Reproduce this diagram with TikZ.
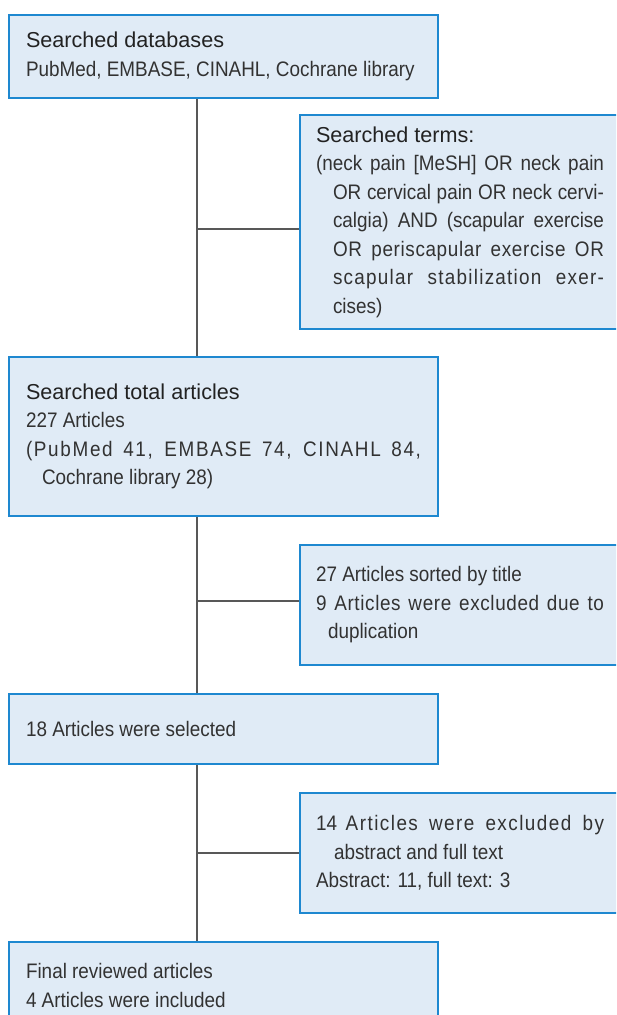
\documentclass[tikz,border=0pt]{standalone}
\usepackage{fontspec}
\setmainfont[FakeStretch=0.9]{Liberation Sans}
\newfontfamily\headfont{Liberation Sans}
\usetikzlibrary{backgrounds}
\setlength{\parindent}{0pt}

\definecolor{boxblue}{RGB}{30,136,208}
\definecolor{boxfill}{RGB}{224,235,246}
\definecolor{linegray}{RGB}{88,88,88}
\definecolor{txtgray}{RGB}{50,50,50}
\definecolor{headgray}{RGB}{34,34,34}

\newcommand{\hd}[1]{{\headfont\fontsize{10.8}{14.25}\selectfont\color{headgray}#1}}
% hanging paragraph, wide-set line
\newcommand{\hang}[1]{\leavevmode\hangindent=#1\hangafter=1\relax}
\newcommand{\wide}[2]{{\addfontfeatures{LetterSpace=#1}#2}}

\begin{document}
\begin{tikzpicture}[x=0.5pt,y=-0.5pt,
    mainbox/.style={draw=boxblue,fill=boxfill,line width=1pt,anchor=north west,
      text width=197.5pt,inner xsep=8.5pt,inner ysep=2pt,minimum width=214.5pt,
      align=justify,text=txtgray,font=\fontsize{10.5}{14.25}\selectfont},
    sidebox/.style={mainbox,text width=144pt,inner xsep=8pt,minimum width=160pt},
    link/.style={draw=linegray,line width=1pt}]
  \useasboundingbox (0,0) rectangle (616,1015);
  \clip (0,0) rectangle (616,1015);
  \coordinate (trunk) at (197,0);
  \node[mainbox,minimum height=41.5pt] (db) at (8,14)
    {\hd{Searched databases}\par PubMed, EMBASE, CINAHL, Cochrane library};
  \node[sidebox,minimum height=107pt] (terms) at (299,114)
    {\hd{Searched terms:}\par
     \hang{8.5pt}(neck pain [MeSH] OR neck pain\linebreak
     OR cervical pain OR neck cervi-\linebreak calgia) AND (scapular exercise\linebreak
     \wide{3}{OR periscapular exercise OR}\linebreak \wide{6}{scapular stabilization exer-}\linebreak cises)\par};
  \node[mainbox,minimum height=79.5pt] (total) at (8,356)
    {\hd{Searched total articles}\par 227 Articles\par
     \hang{8pt}\wide{8}{(PubMed 41, EMBASE 74, CINAHL 84,}\linebreak Cochrane library 28)\par};
  \node[sidebox,minimum height=60pt] (title) at (299,544)
    {27 Articles sorted by title\par
     \hang{6pt}\wide{3}{9 Articles were excluded due to}\linebreak duplication\par};
  \node[mainbox,minimum height=35pt] (sel) at (8,693) {18 Articles were selected};
  \node[sidebox,minimum height=60pt] (abs) at (299,792)
    {\hang{9pt}14 \wide{7}{Articles were excluded by}\linebreak abstract and full text\par
     Abstract: 11, full text: 3};
  \node[mainbox,minimum height=43.5pt] (final) at (8,941)
    {Final reviewed articles\par 4 Articles were included};
  \begin{scope}[on background layer]
    \draw[link] (db.south -| trunk) -- (total.north -| trunk);
    \draw[link] (total.south -| trunk) -- (sel.north -| trunk);
    \draw[link] (sel.south -| trunk) -- (final.north -| trunk);
    \draw[link] ([yshift=-3.5pt]terms.west) -- ([yshift=-3.5pt]terms.west -| trunk);
    \draw[link] ([yshift=2pt]title.west) -- ([yshift=2pt]title.west -| trunk);
    \draw[link] (abs.west) -- (abs.west -| trunk);
  \end{scope}
\end{tikzpicture}
\end{document}
